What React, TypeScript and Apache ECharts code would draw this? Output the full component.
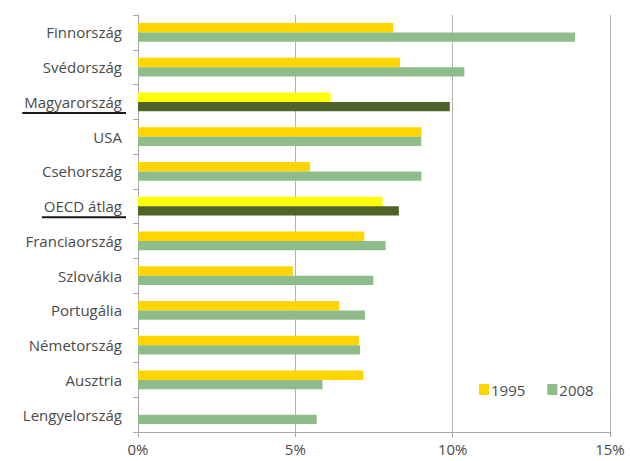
import React, { useEffect, useRef } from "react";
import * as echarts from "echarts";

const categories = [
  "Finnország",
  "Svédország",
  "Magyarország",
  "USA",
  "Csehország",
  "OECD átlag",
  "Franciaország",
  "Szlovákia",
  "Portugália",
  "Németország",
  "Ausztria",
  "Lengyelország",
];
const values1995 = [8.11, 8.33, 6.12, 9.01, 5.47, 7.77, 7.19, 4.92, 6.39, 7.02, 7.16, 0];
const values2008 = [13.89, 10.37, 9.91, 9.0, 9.01, 8.29, 7.87, 7.48, 7.21, 7.06, 5.86, 5.68];
const highlighted = ["Magyarország", "OECD átlag"];
const xTicks = [0, 5, 10, 15];

const FONT = "Open Sans";
const FS = 15;
const TXT = "#4a4a4a";
const C1995 = "#FFD500";
const C2008 = "#8FBC8B";
const C1995H = "#FFFF00";
const C2008H = "#4F6228";

export default function App() {
  const ref = useRef<HTMLDivElement>(null);
  useEffect(() => {
    document.body.style.margin = "0";
    if (!ref.current) return;
    const chart = echarts.init(ref.current, undefined, { renderer: "svg" });
    const labelMargin = 16;
    const gridLeft = 138;
    chart.setOption({
      animation: false,
      grid: { left: gridLeft, top: 15, right: 20, bottom: 29, containLabel: false },
      legend: {
        data: ["1995", "2008"],
        left: 474,
        top: 377,
        itemWidth: 10,
        itemHeight: 11,
        itemGap: 22,
        icon: "rect",
        textStyle: { fontFamily: FONT, fontSize: FS, color: TXT, padding: [0, 0, 0, -3] },
      },
      xAxis: {
        type: "value",
        min: xTicks[0],
        max: xTicks[xTicks.length - 1],
        interval: 5,
        axisLine: { show: true, lineStyle: { color: "#a6a6a6" } },
        axisTick: { show: true, length: 5, lineStyle: { color: "#a6a6a6" } },
        splitLine: { show: true, lineStyle: { color: "#b3b3b3" } },
        axisLabel: {
          formatter: (v: number) => v + "%",
          fontFamily: FONT,
          fontSize: FS,
          color: TXT,
          margin: 9,
        },
      },
      yAxis: {
        type: "category",
        data: categories,
        inverse: true,
        axisLine: { show: true, lineStyle: { color: "#a6a6a6" } },
        axisTick: { show: true, length: 5, lineStyle: { color: "#a6a6a6" } },
        axisLabel: {
          fontFamily: FONT,
          fontSize: FS,
          color: TXT,
          margin: labelMargin,
        },
      },
      series: [
        {
          name: "1995",
          type: "bar",
          barCategoryGap: "46%",
          barGap: "0%",
          itemStyle: { color: C1995 },
          data: values1995.map((v, i) => ({
            value: v,
            itemStyle: { color: highlighted.includes(categories[i]) ? C1995H : C1995 },
          })),
        },
        {
          name: "2008",
          type: "bar",
          barCategoryGap: "46%",
          barGap: "0%",
          itemStyle: { color: C2008 },
          data: values2008.map((v, i) => ({
            value: v,
            itemStyle: { color: highlighted.includes(categories[i]) ? C2008H : C2008 },
          })),
        },
      ],
    });

    const canvas = document.createElement("canvas");
    const ctx = canvas.getContext("2d");
    const graphics: any[] = [];
    highlighted.forEach((name) => {
      const y = chart.convertToPixel({ yAxisIndex: 0 }, name) as number;
      let w = 100;
      if (ctx) {
        ctx.font = `${FS}px "${FONT}"`;
        w = ctx.measureText(name).width;
      }
      const right = gridLeft - labelMargin;
      graphics.push({
        type: "line",
        shape: { x1: right - w - 2, y1: y + 11, x2: right + 4, y2: y + 11 },
        style: { stroke: "#1a1a1a", lineWidth: 2 },
      });
    });
    chart.setOption({ graphic: graphics });

    return () => chart.dispose();
  }, []);
  return <div ref={ref} style={{ width: 630, height: 461 }} />;
}
